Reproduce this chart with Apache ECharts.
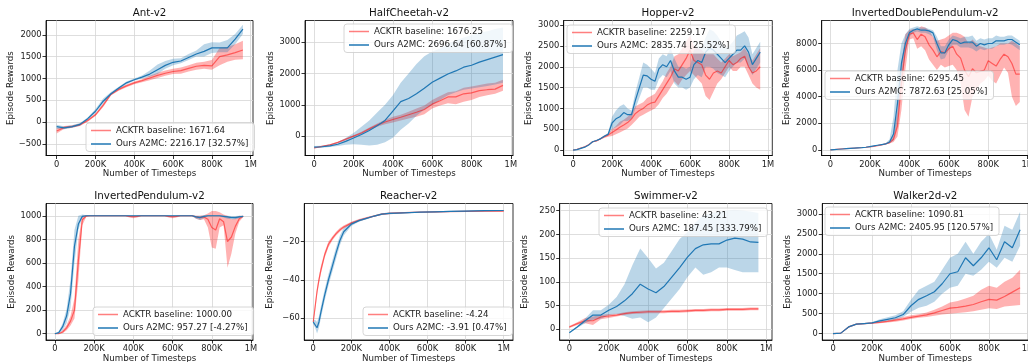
<!DOCTYPE html>
<html><head><meta charset="utf-8">
<script src="https://cdn.jsdelivr.net/npm/echarts@6/dist/echarts.min.js"></script>
<style>html,body{margin:0;padding:0;background:#fff}#c{width:1028px;height:362px}</style>
</head><body><div id="c"></div>
<script>
// ---------------- DATA ----------------
const steps40 = [0,40000,80000,120000,160000,200000,240000,280000,320000,360000,400000,440000,480000,520000,560000,600000,640000,680000,720000,760000,800000,840000,880000,920000,960000];
const steps20 = [0,20000,40000,60000,80000,100000,120000,140000,160000,180000,200000,220000,240000,260000,280000,300000,320000,340000,360000,380000,400000,420000,440000,460000,480000,500000,520000,540000,560000,580000,600000,620000,640000,660000,680000,700000,720000,740000,760000,780000,800000,820000,840000,860000,880000,900000,920000,940000,960000];
const reacherSteps = [0,10000,20000,30000,40000,60000,80000,100000,120000,140000,160000,200000,240000,280000,320000,360000,400000,480000,560000,640000,720000,800000,900000,1000000];

const xTickValues = [0,200000,400000,600000,800000,1000000];

const titles = ['Ant-v2','HalfCheetah-v2','Hopper-v2','InvertedDoublePendulum-v2','InvertedPendulum-v2','Reacher-v2','Swimmer-v2','Walker2d-v2'];
const acktrLabels = ['ACKTR baseline: 1671.64','ACKTR baseline: 1676.25','ACKTR baseline: 2259.17','ACKTR baseline: 6295.45','ACKTR baseline: 1000.00','ACKTR baseline: -4.24','ACKTR baseline: 43.21','ACKTR baseline: 1090.81'];
const a2mcLabels = ['Ours A2MC: 2216.17 [32.57%]','Ours A2MC: 2696.64 [60.87%]','Ours A2MC: 2835.74 [25.52%]','Ours A2MC: 7872.63 [25.05%]','Ours A2MC: 957.27 [-4.27%]','Ours A2MC: -3.91 [0.47%]','Ours A2MC: 187.45 [333.79%]','Ours A2MC: 2405.95 [120.57%]'];

const antYTicks = [-500,0,500,1000,1500,2000];
const hcYTicks = [0,1000,2000,3000];
const hopperYTicks = [0,500,1000,1500,2000,2500,3000];
const idpYTicks = [0,2000,4000,6000,8000];
const ipYTicks = [0,200,400,600,800,1000];
const reacherYTicks = [-60,-40,-20];
const swimmerYTicks = [0,50,100,150,200,250];
const walkerYTicks = [0,500,1000,1500,2000,2500,3000];

// Ant
const antAcktr   = [-200,-120,-100,-60,40,170,390,640,750,830,900,950,1010,1070,1120,1160,1180,1230,1280,1300,1290,1500,1540,1590,1650];
const antAcktrLo = [-260,-150,-130,-90,10,140,350,610,720,800,870,915,960,1010,1060,1100,1110,1160,1200,1220,1200,1300,1380,1430,1440];
const antAcktrHi = [-140,-90,-70,-30,70,200,430,670,780,860,930,985,1060,1130,1180,1220,1250,1300,1360,1380,1420,1700,1720,1780,1860];
const antA2mc    = [-100,-130,-100,-50,80,250,480,650,780,900,970,1030,1100,1200,1300,1370,1400,1480,1560,1620,1700,1700,1700,1900,2130];
const antA2mcLo  = [-150,-160,-130,-80,50,210,430,620,750,870,950,1000,1040,1100,1220,1300,1350,1420,1500,1500,1580,1600,1600,1780,2020];
const antA2mcHi  = [-60,-100,-70,-20,110,300,540,690,810,930,1000,1070,1180,1320,1400,1450,1460,1560,1640,1780,1830,1820,1880,2020,2230];

// HalfCheetah
const hcAcktr   = [-380,-330,-280,-200,-100,0,100,230,350,450,530,600,680,760,850,1020,1130,1250,1250,1350,1380,1450,1480,1500,1620];
const hcAcktrLo = [-400,-350,-300,-220,-130,-30,60,190,300,380,430,500,560,620,700,880,980,1050,1020,1100,1150,1250,1300,1350,1450];
const hcAcktrHi = [-360,-310,-260,-180,-70,30,140,270,400,520,620,680,780,880,980,1150,1280,1400,1430,1540,1580,1630,1680,1700,1800];
const hcA2mc    = [-350,-340,-310,-260,-170,-60,50,180,330,500,800,1100,1200,1350,1530,1720,1850,1980,2080,2200,2260,2360,2440,2520,2600];
const hcA2mcLo  = [-380,-370,-350,-320,-280,-260,-280,-300,-280,-200,-50,200,400,650,850,1000,1150,1300,1400,1480,1520,1560,1600,1650,1700];
const hcA2mcHi  = [-320,-310,-270,-200,-60,100,300,500,750,1000,1300,1700,2000,2300,2550,2700,2800,2950,3050,3150,3220,3300,3350,3420,3470];

// Hopper
const hopAcktr   = [0,20,50,80,130,200,220,270,320,360,420,480,550,600,660,750,880,950,1000,1080,1130,1150,1300,1450,1600,1750,1950,1900,2050,2200,2400,2150,2100,2050,1800,1700,1850,1900,1850,2000,2150,2050,2100,2200,2250,2000,1850,1900,2000];
const hopAcktrLo = [0,15,40,70,120,185,205,250,290,320,340,380,420,470,520,600,700,800,850,900,950,1000,1100,1250,1350,1500,1650,1550,1700,1800,1900,1800,1700,1600,1300,1200,1400,1600,1700,1850,2000,1900,1900,2000,2000,1800,1600,1500,1450];
const hopAcktrHi = [0,25,60,90,140,215,235,290,350,400,500,580,680,730,800,900,1050,1100,1150,1250,1300,1350,1500,1650,1850,2000,2250,2300,2450,2600,2750,2500,2450,2400,2300,2300,2300,2200,2100,2200,2300,2250,2300,2350,2450,2300,2150,2300,2450];
const hopA2mc    = [0,10,40,70,120,200,230,270,330,380,650,750,800,900,850,850,1200,1500,1800,1780,1700,1650,1950,2050,2000,2150,1900,1750,1750,1700,1750,2050,2150,2100,2350,2450,2400,2300,2200,2100,2200,2300,2400,2400,2500,2350,2050,2200,2350];
const hopA2mcLo  = [0,5,30,60,110,185,215,255,310,350,500,550,600,700,700,750,1000,1250,1500,1500,1450,1450,1700,1800,1750,1900,1600,1500,1500,1450,1500,1700,1800,1750,2000,2000,1950,1850,1800,1750,1900,2000,2100,2100,2200,2000,1800,1950,2100];
const hopA2mcHi  = [0,15,50,80,130,215,245,285,350,410,800,950,1050,1100,1000,950,1400,1750,2100,2050,1950,1850,2200,2300,2250,2450,2200,2000,2000,1950,2000,2400,2500,2450,2700,2900,2850,2750,2600,2450,2500,2600,2750,2800,2850,2700,2300,2450,2600];

// InvertedDoublePendulum
const idpAcktr   = [0,30,60,80,100,120,140,160,180,200,230,270,320,380,450,550,800,1800,5000,7500,8700,8800,8300,8700,8500,7900,7500,7000,7400,7300,7600,7800,7200,6900,6000,5500,6100,5800,5900,6000,6700,6500,6300,6800,7200,7000,6500,5700,5700];
const idpAcktrLo = [0,20,50,70,90,110,130,150,170,190,210,250,300,350,400,480,600,1000,3000,6000,8300,8400,7600,7800,7500,6800,6400,6000,6400,6200,6300,6400,6000,5000,3000,2500,4000,4500,5000,5200,5600,5200,5000,5600,6200,5800,4000,3300,3600];
const idpAcktrHi = [0,40,70,90,110,130,150,170,190,210,250,290,340,410,500,650,1100,3000,6500,8700,9000,9100,9000,9300,9200,9000,8500,8200,8300,8400,8600,8800,8800,8700,8500,8000,8300,8000,7800,7700,7600,7700,7800,8000,8000,8000,8200,8000,7800];
const idpA2mc    = [0,25,50,70,90,110,130,150,170,200,250,300,350,400,450,600,1200,3500,6500,8000,8800,9000,9100,9000,9000,8950,8800,8000,7300,7300,7900,8300,8200,8000,8100,8100,8100,7800,8000,7900,8000,8000,8200,8200,8200,8300,8300,8100,7900];
const idpA2mcLo  = [0,20,45,65,85,105,125,145,165,190,230,280,320,370,420,500,700,2000,5000,7200,8500,8800,8900,8800,8800,8700,8500,7500,6800,6900,7500,7900,7900,7700,7700,7700,7600,7400,7600,7500,7600,7600,7800,7900,7900,8000,7900,7700,7500];
const idpA2mcHi  = [0,30,55,75,95,115,135,155,175,210,270,320,380,430,500,800,2500,6000,8000,8700,9100,9200,9300,9200,9200,9100,9000,8500,7800,7800,8300,8600,8500,8400,8500,8500,8600,8200,8400,8300,8400,8400,8600,8500,8500,8600,8600,8400,8200];

// InvertedPendulum
const ipAcktr   = [0,0,15,50,107,200,620,966,998,1000, 1000,1000,1000,1000,1000, 1000,1000,1000,1000,995, 993,995,1000,1000,1000, 1000,1000,1000,1000,995, 993,995,1000,1000,1000, 1000,990,985,990,970, 900,880,975,950,780, 820,910,975,995];
const ipAcktrLo = [0,0,5,30,70,130,450,920,990,995, 995,995,995,995,995, 995,995,995,995,985, 980,985,995,995,995, 995,995,995,995,985, 980,985,995,995,995, 995,975,965,970,900, 730,720,900,920,560, 680,850,950,990];
const ipAcktrHi = [0,5,30,75,150,300,800,1000,1005,1005, 1005,1005,1005,1005,1005, 1005,1005,1005,1005,1002, 1000,1002,1005,1005,1005, 1005,1005,1005,1005,1002, 1000,1002,1005,1005,1005, 1005,1000,1000,1005,1020, 1040,1040,1030,1010,1000, 970,980,1000,1000];
const ipA2mc    = [0,10,60,150,340,740,930,995,1000,1000, 1000,1000,1000,1000,1000, 1000,1000,1000,1000,1000, 1000,1000,1000,1000,1000, 1000,1000,1000,1000,1000, 1000,1000,1000,1000,1000, 1000,990,985,995,1000, 1000,1000,1000,995,990, 985,985,990,995];
const ipA2mcLo  = [0,0,30,90,220,600,880,985,995,995, 995,995,995,995,995, 995,995,995,995,995, 995,995,995,995,995, 995,995,995,995,995, 995,995,995,995,995, 995,975,965,980,995, 995,995,995,985,975, 970,970,980,990];
const ipA2mcHi  = [0,20,90,210,460,880,1000,1010,1005,1005, 1005,1005,1005,1005,1005, 1005,1005,1005,1005,1005, 1005,1005,1005,1005,1005, 1005,1005,1005,1005,1005, 1005,1005,1005,1005,1005, 1005,1000,1000,1005,1005, 1005,1005,1005,1003,1000, 998,998,1000,1000];

// Reacher
const reAcktr   = [-62,-54,-46,-40,-35,-27,-21.5,-18.5,-16,-14,-12.5,-10.5,-9,-7.8,-6.8,-5.8,-5.4,-5.0,-4.8,-4.6,-4.45,-4.35,-4.25,-4.2];
const reAcktrLo = [-63,-56,-48,-42,-37,-28.5,-23,-19.5,-17,-15,-13.3,-11.2,-9.6,-8.3,-7.2,-6.2,-5.8,-5.3,-5.1,-4.9,-4.75,-4.65,-4.55,-4.5];
const reAcktrHi = [-61,-52,-44,-38,-33,-25.5,-20,-17.5,-15,-13,-11.7,-9.8,-8.4,-7.3,-6.4,-5.4,-5.0,-4.7,-4.5,-4.3,-4.15,-4.05,-3.95,-3.9];
const reA2mc    = [-62,-63,-65,-62,-57,-48,-40,-33,-26,-19.5,-15,-11,-9.2,-8,-6.8,-5.8,-5.4,-5.1,-4.8,-4.6,-4.4,-4.2,-4.0,-3.9];
const reA2mcLo  = [-63,-65,-68,-65,-60,-51,-43,-36,-29,-22,-17,-12,-9.8,-8.5,-7.2,-6.2,-5.8,-5.4,-5.1,-4.9,-4.7,-4.5,-4.3,-4.2];
const reA2mcHi  = [-61,-61,-62,-59,-54,-45,-37,-30,-23,-17,-13,-10,-8.6,-7.5,-6.4,-5.4,-5.0,-4.8,-4.5,-4.3,-4.1,-3.9,-3.7,-3.6];

// Swimmer
const swAcktr   = [5,12,18,18,26,28,30,33,35,36,37,37,37,38,38,39,40,40,41,41,42,42,42,43,43];
const swAcktrLo = [3,9,13,9,21,24,27,30,32,33,34,34,34,35,35,36,37,37,38,38,39,39,39,40,40];
const swAcktrHi = [7,15,24,27,30,32,33,36,38,39,40,40,40,41,41,42,43,43,44,44,45,45,45,46,46];
const swA2mc    = [-7,5,18,30,30,40,48,60,75,95,85,77,90,110,130,152,170,178,180,180,188,192,190,184,183];
const swA2mcLo  = [-8,3,13,20,22,30,32,28,22,25,15,25,45,65,85,110,130,115,120,130,130,125,120,120,120];
const swA2mcHi  = [-6,7,23,40,40,52,68,95,135,170,150,128,140,165,190,205,225,240,245,248,250,252,250,248,245];

// Walker2d
const wkAcktr   = [0,15,170,240,255,265,285,310,340,370,410,440,470,520,580,640,660,690,730,800,860,840,930,1040,1150];
const wkAcktrLo = [0,5,150,225,240,250,260,280,300,330,370,400,420,450,480,500,520,540,560,600,640,620,680,700,720];
const wkAcktrHi = [0,25,190,255,270,285,310,340,380,420,460,490,530,600,680,780,820,880,950,1100,1200,1150,1300,1400,1600];
const wkA2mc    = [0,15,170,240,255,270,320,360,400,480,700,860,950,1050,1250,1500,1550,1900,1700,1900,2150,1850,2300,2150,2600];
const wkA2mcLo  = [0,5,150,225,240,255,290,320,350,420,550,650,700,800,1000,1150,1200,1500,1450,1600,1800,1650,1900,1800,2200];
const wkA2mcHi  = [0,25,190,255,270,290,360,410,460,560,850,1100,1200,1300,1600,1900,2000,2300,2000,2300,2500,2100,2700,2600,3050];

// ---------------- PANELS (data references) ----------------
const panels = [
  {steps:steps40, r:antAcktr, rLo:antAcktrLo, rHi:antAcktrHi, b:antA2mc, bLo:antA2mcLo, bHi:antA2mcHi, yTicks:antYTicks},
  {steps:steps40, r:hcAcktr, rLo:hcAcktrLo, rHi:hcAcktrHi, b:hcA2mc, bLo:hcA2mcLo, bHi:hcA2mcHi, yTicks:hcYTicks},
  {steps:steps20, r:hopAcktr, rLo:hopAcktrLo, rHi:hopAcktrHi, b:hopA2mc, bLo:hopA2mcLo, bHi:hopA2mcHi, yTicks:hopperYTicks},
  {steps:steps20, r:idpAcktr, rLo:idpAcktrLo, rHi:idpAcktrHi, b:idpA2mc, bLo:idpA2mcLo, bHi:idpA2mcHi, yTicks:idpYTicks},
  {steps:steps20, r:ipAcktr, rLo:ipAcktrLo, rHi:ipAcktrHi, b:ipA2mc, bLo:ipA2mcLo, bHi:ipA2mcHi, yTicks:ipYTicks},
  {steps:reacherSteps, r:reAcktr, rLo:reAcktrLo, rHi:reAcktrHi, b:reA2mc, bLo:reA2mcLo, bHi:reA2mcHi, yTicks:reacherYTicks},
  {steps:steps40, r:swAcktr, rLo:swAcktrLo, rHi:swAcktrHi, b:swA2mc, bLo:swA2mcLo, bHi:swA2mcHi, yTicks:swimmerYTicks},
  {steps:steps40, r:wkAcktr, rLo:wkAcktrLo, rHi:wkAcktrHi, b:wkA2mc, bLo:wkA2mcLo, bHi:wkA2mcHi, yTicks:walkerYTicks}
];

// ---------------- LAYOUT ----------------
const layout = [
  {left:46,    top:20.5,  width:207,   height:135,   xMin:-55000, xMax:1012000, yMin:-762,  yMax:2326,  legL:86,  legT:123, titleY:13},
  {left:305,   top:20.5,  width:208,   height:135,   xMin:-47000, xMax:1011000, yMin:-620,  yMax:3690,  legL:344, legT:24,  titleY:13},
  {left:563.7, top:20.5,  width:208.6, height:135,   xMin:-48000, xMax:1022000, yMin:-130,  yMax:3110,  legL:567, legT:25,  titleY:13},
  {left:821.7, top:20.5,  width:207,   height:135,   xMin:-44000, xMax:1005000, yMin:-420,  yMax:9730,  legL:825, legT:71,  titleY:13},
  {left:46,    top:203.5, width:207,   height:136.5, xMin:-45000, xMax:1010000, yMin:-53,   yMax:1104,  legL:93,  legT:307, titleY:196},
  {left:304.3, top:203.5, width:208.7, height:136.5, xMin:-47000, xMax:1049000, yMin:-71.4, yMax:-0.26, legL:363, legT:307, titleY:196},
  {left:559.7, top:203.5, width:212.3, height:136.5, xMin:-49000, xMax:1029000, yMin:-22.5, yMax:265,   legL:599, legT:208, titleY:196},
  {left:822.3, top:203.5, width:206,   height:136.5, xMin:-55000, xMax:1002000, yMin:-157,  yMax:3257,  legL:825, legT:207, titleY:196}
];

const FONT = 'DejaVu Sans';
const RED_LINE = 'rgba(255,0,0,0.5)';
const RED_BAND = 'rgba(255,0,0,0.3)';
const BLUE_LINE = '#1f77b4';
const BLUE_BAND = 'rgba(31,119,180,0.3)';

function zip(xs, ys) { return xs.map((x, i) => [x, ys[i]]); }
function fmtX(v) { if (v === 0) return '0'; if (v === 1000000) return '1M'; return (v / 1000) + 'K'; }
function fmtY(v) { return String(v).replace('-', '\u2212'); }

// band drawn as one polygon through the axis scales (api.coord)
function bandSeries(i, xs, lo, hi, color) {
  return {
    type:'custom', xAxisIndex:i, yAxisIndex:i, silent:true, clip:true, animation:false,
    data: xs.map((x, k) => [x, lo[k], hi[k]]),
    encode:{x:0, y:[1,2]},
    renderItem: function (params, api) {
      if (params.dataIndex !== 0) return null;
      const pts = [];
      for (let k = 0; k < xs.length; k++) pts.push(api.coord([xs[k], hi[k]]));
      for (let k = xs.length - 1; k >= 0; k--) pts.push(api.coord([xs[k], lo[k]]));
      return {type:'polygon', shape:{points:pts}, style:{fill:color, stroke:null}};
    }
  };
}

const grids = [], xAxes = [], yAxes = [], series = [], legends = [], graphics = [];

panels.forEach((p, i) => {
  const L = layout[i];
  grids.push({left:L.left, top:L.top, width:L.width, height:L.height, show:true, borderColor:'#000', borderWidth:0.8, containLabel:false, outerBoundsMode:'none'});
  xAxes.push({
    gridIndex:i, type:'value', min:L.xMin, max:L.xMax, minInterval:200000, maxInterval:200000,
    axisLine:{show:true, onZero:false, lineStyle:{color:'#000', width:0.8}},
    axisTick:{show:true, inside:false, length:3.5, lineStyle:{color:'#000', width:0.8}, customValues:xTickValues},
    axisLabel:{show:true, customValues:xTickValues, formatter:fmtX, fontSize:8.3, color:'#222', margin:5, fontFamily:FONT},
    splitLine:{show:true, lineStyle:{color:'#d6d6d6', width:0.8}},
    name:'Number of Timesteps', nameLocation:'middle', nameGap:14,
    nameTextStyle:{fontSize:8.7, color:'#222', fontFamily:FONT}
  });
  const yInt = p.yTicks[1] - p.yTicks[0];
  yAxes.push({
    gridIndex:i, type:'value', min:L.yMin, max:L.yMax, minInterval:yInt, maxInterval:yInt,
    axisLine:{show:true, onZero:false, lineStyle:{color:'#000', width:0.8}},
    axisTick:{show:true, inside:false, length:3.5, lineStyle:{color:'#000', width:0.8}, customValues:p.yTicks},
    axisLabel:{show:true, customValues:p.yTicks, formatter:fmtY, fontSize:8.3, color:'#222', margin:4.5, fontFamily:FONT},
    splitLine:{show:true, lineStyle:{color:'#d6d6d6', width:0.8}},
    name:'Episode Rewards', nameLocation:'middle', nameGap:30,
    nameTextStyle:{fontSize:8.7, color:'#222', fontFamily:FONT}
  });
  const common = {type:'line', xAxisIndex:i, yAxisIndex:i, symbol:'none', showSymbol:false, smooth:false, animation:false, clip:true};
  series.push(bandSeries(i, p.steps, p.rLo, p.rHi, RED_BAND));
  series.push(Object.assign({}, common, {name:acktrLabels[i], data:zip(p.steps, p.r), color:RED_LINE, lineStyle:{color:RED_LINE, width:1.2}}));
  series.push(bandSeries(i, p.steps, p.bLo, p.bHi, BLUE_BAND));
  series.push(Object.assign({}, common, {name:a2mcLabels[i], data:zip(p.steps, p.b), color:BLUE_LINE, lineStyle:{color:BLUE_LINE, width:1.2}}));

  legends.push({
    data:[acktrLabels[i], a2mcLabels[i]], orient:'vertical', left:L.legL, top:L.legT,
    icon:'rect', itemWidth:20, itemHeight:1.5, itemGap:3.5, padding:[2.5,6,2.5,5],
    backgroundColor:'rgba(255,255,255,0.8)', borderColor:'#cccccc', borderWidth:0.8, borderRadius:3,
    textStyle:{fontSize:8.7, color:'#222', fontFamily:FONT, lineHeight:10},
    selectedMode:false
  });
  graphics.push({type:'text', x:L.left + L.width / 2, y:L.titleY, silent:true,
    style:{text:titles[i], fontSize:10.3, fontFamily:FONT, fill:'#111', textAlign:'center', textVerticalAlign:'middle'}});
});

const chart = echarts.init(document.getElementById('c'), null, {renderer:'canvas'});
chart.setOption({
  animation:false,
  backgroundColor:'#fff',
  grid:grids, xAxis:xAxes, yAxis:yAxes, series:series, legend:legends, graphic:graphics
});
</script></body></html>
